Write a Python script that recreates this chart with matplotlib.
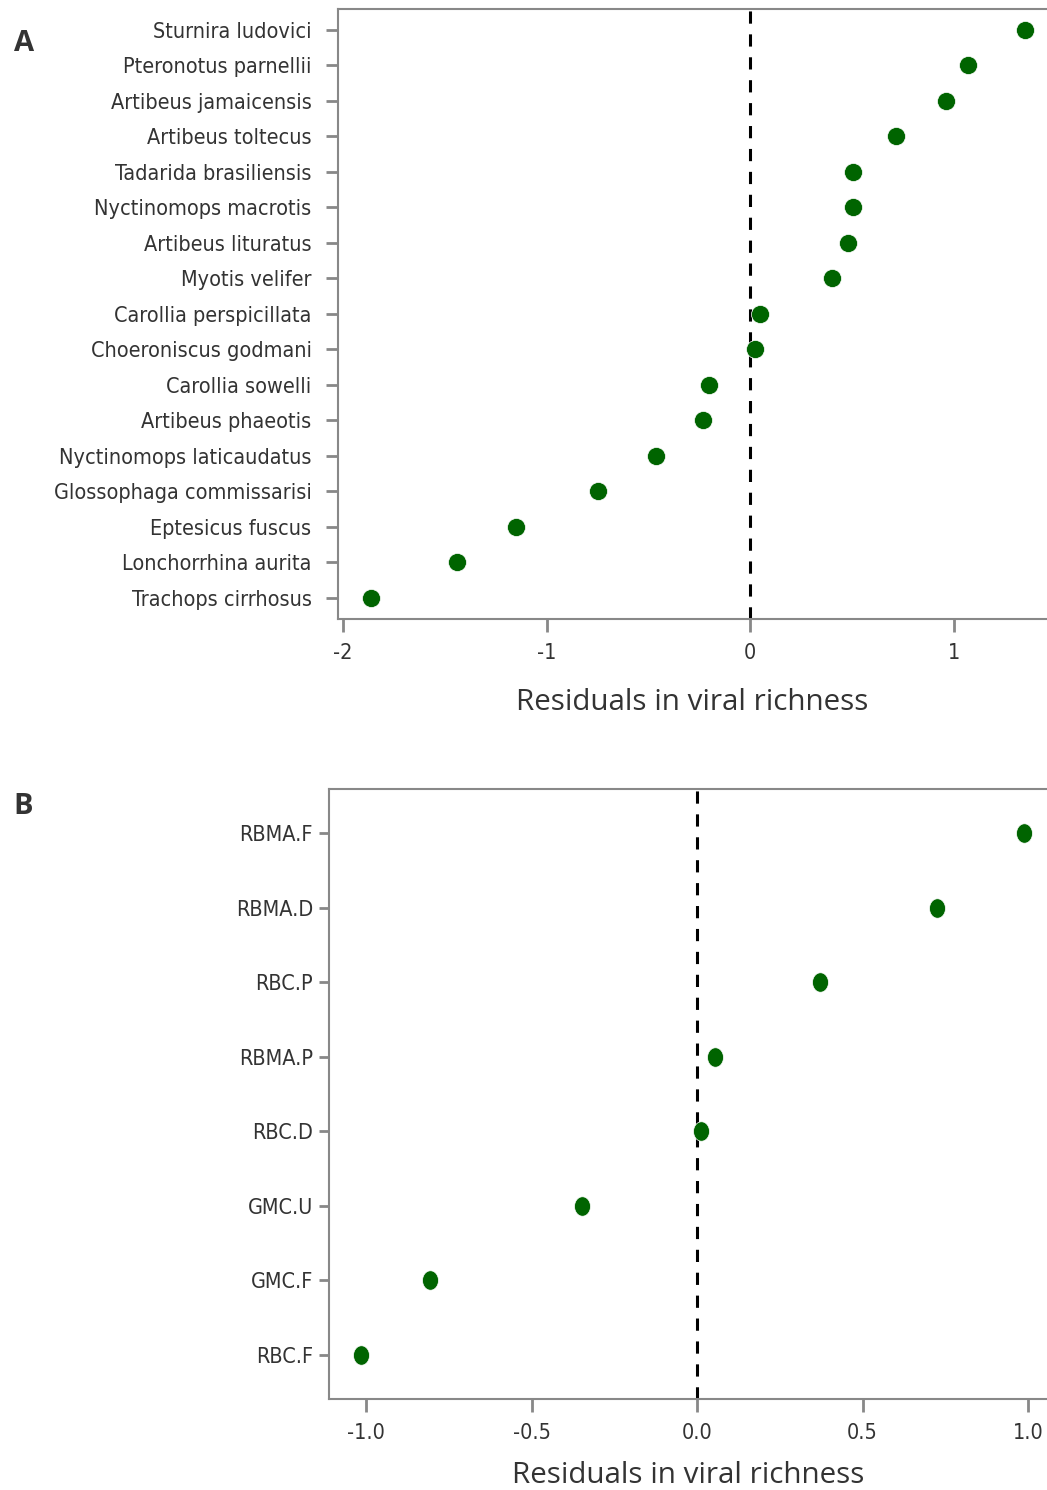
import matplotlib.pyplot as plt
from matplotlib import font_manager
from matplotlib.path import Path
import numpy as np

# panel A: species residuals, top to bottom
species = ["Sturnira ludovici", "Pteronotus parnellii", "Artibeus jamaicensis",
           "Artibeus toltecus", "Tadarida brasiliensis", "Nyctinomops macrotis",
           "Artibeus lituratus", "Myotis velifer", "Carollia perspicillata",
           "Choeroniscus godmani", "Carollia sowelli", "Artibeus phaeotis",
           "Nyctinomops laticaudatus", "Glossophaga commissarisi", "Eptesicus fuscus",
           "Lonchorrhina aurita", "Trachops cirrhosus"]
resid_a = [1.35, 1.07, 0.962, 0.717, 0.506, 0.506, 0.481, 0.403, 0.049,
           0.025, -0.201, -0.231, -0.461, -0.746, -1.149, -1.438, -1.865]

# panel B: groups
groups = ["RBMA.F", "RBMA.D", "RBC.P", "RBMA.P", "RBC.D", "GMC.U", "GMC.F", "RBC.F"]
resid_b = [0.988, 0.725, 0.372, 0.054, 0.012, -0.347, -0.807, -1.015]

# look for a narrow face, fall back to Roboto
entries = font_manager.fontManager.ttflist
names = {f.name for f in entries}
tick_kw = {"fontfamily": "Roboto", "fontsize": 15.5}
if "Liberation Sans Narrow" in names:
    tick_kw = {"fontfamily": "Liberation Sans Narrow", "fontsize": 17.5}
elif any(f.name == "DejaVu Sans" and "condensed" in str(f.stretch) for f in entries):
    tick_kw = {"fontfamily": "DejaVu Sans", "fontstretch": "condensed", "fontsize": 15.5}
labelfont = "Open Sans"

green = "#006400"
grey = "#888888"
txt = "#333333"

t = np.linspace(0, 2 * np.pi, 40)
oval = Path(np.column_stack([0.82 * np.cos(t), np.sin(t)]), closed=True)

fig = plt.figure(figsize=(10.47, 14.9), dpi=100)
axA = fig.add_axes([0.3228, 0.5846, 0.6772, 0.4094])
axB = fig.add_axes([0.3142, 0.0611, 0.6858, 0.4094])


def style(ax, labels, vals, marker, ms, xlim, xticks, xtl, lpad, ylen, ypad):
    y = list(range(len(labels)))
    ax.axvline(0, color="black", lw=2.2, ls=(0, (4, 3.5)), zorder=1)
    ax.plot(vals, y, linestyle="none", marker=marker, color=green, ms=ms,
            mec="white", mew=0.5, zorder=3)
    ax.set_yticks(y)
    ax.set_yticklabels(labels, color=txt, **tick_kw)
    ax.set_ylim(len(labels) - 0.41, -0.59)
    ax.set_xlim(*xlim)
    ax.set_xticks(xticks)
    ax.set_xticklabels(xtl, color=txt, **tick_kw)
    for s in ["left", "bottom", "top"]:
        ax.spines[s].set_color(grey)
        ax.spines[s].set_linewidth(1.5)
    ax.spines["right"].set_visible(False)
    ax.tick_params(axis="both", colors=grey, length=9, width=2, labelcolor=txt)
    ax.tick_params(axis="y", pad=ypad, length=ylen)
    ax.tick_params(axis="x", pad=8)
    ax.set_xlabel("Residuals in viral richness", fontfamily=labelfont,
                  fontsize=21.3, color=txt, labelpad=lpad)


style(axA, species, resid_a, "o", 13, (-2.025, 1.458), [-2, -1, 0, 1],
      ["-2", "-1", "0", "1"], 18, 9, 10)
style(axB, groups, resid_b, oval, 14, (-1.112, 1.057), [-1.0, -0.5, 0.0, 0.5, 1.0],
      ["-1.0", "-0.5", "0.0", "0.5", "1.0"], 13, 7.5, 4)

fig.text(0.013, 0.971, "A", fontsize=21, fontweight="bold", color=txt,
         fontfamily="Open Sans", va="center")
fig.text(0.013, 0.459, "B", fontsize=21, fontweight="bold", color=txt,
         fontfamily="Open Sans", va="center")

fig.savefig("out.png", dpi=100)
